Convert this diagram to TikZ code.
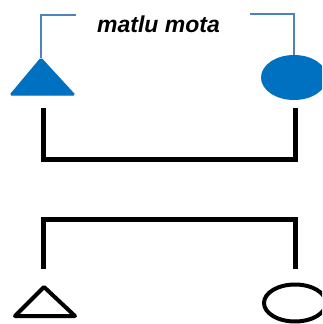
\documentclass[tikz,border=0pt]{standalone}
\usepackage{fontspec}
\setmainfont{Liberation Sans}
\usetikzlibrary{shapes.geometric}
\definecolor{fillblue}{RGB}{0,112,192}
\definecolor{linkblue}{RGB}{79,129,189}
\tikzset{
  bar/.style={line width=5pt, black, line join=miter},
  leader/.style={line width=1.5pt, linkblue},
  solidtri/.style={fill=fillblue, draw=fillblue, line width=1pt, rounded corners=1.5pt},
  opentri/.style={draw=black, line width=4pt, line join=round},
  solidoval/.style={ellipse, fill=fillblue, inner sep=0pt, minimum width=66pt, minimum height=45pt},
  openoval/.style={ellipse, draw=black, line width=4pt, inner sep=0pt, minimum width=62pt, minimum height=37pt},
  caption/.style={font=\bfseries\itshape\fontsize{23}{25}\selectfont, inner sep=0pt}
}
\begin{document}
\begin{tikzpicture}[x=1pt, y=-1pt]
  \useasboundingbox (0,0) rectangle (322,324);
  \begin{scope}
  \clip (0,0) rectangle (322,324);

  % filled pair
  \coordinate (ta) at (41,58);
  \draw[solidtri] (ta) -- (10,95) -- (75,95) -- cycle;
  \node[solidoval] (ob) at (294,77.5) {};

  % title and leaders
  \node[caption, anchor=base] (title) at (158.5,32) {matlu mota};
  \coordinate (la) at (76,15);
  \coordinate (ra) at (250,14);
  \draw[leader] (la) -- (ta |- la) -- (ta);
  \draw[leader] (ra) -- (ob.north |- ra) -- (ob.north);

  % upper bracket
  \coordinate (u1) at (43.5,108);
  \coordinate (u2) at (295.5,108);
  \draw[bar] (u1) -- (43.5,159.5) -- (295.5,159.5) -- (u2);

  % lower bracket
  \coordinate (d1) at (43.5,269);
  \coordinate (d2) at (295.5,269);
  \draw[bar] (d1) -- (43.5,219.5) -- (295.5,219.5) -- (d2);

  % outlined pair
  \coordinate (tb) at (44,287);
  \draw[opentri] (tb) -- (15,316) -- (75,316) -- cycle;
  \node[openoval] (oc) at (295,303) {};
  \end{scope}
\end{tikzpicture}
\end{document}
